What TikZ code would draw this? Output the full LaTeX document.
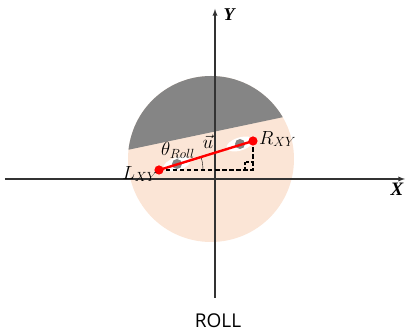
\documentclass[tikz,border=0pt]{standalone}
\usepackage{amsmath}
\usepackage{fix-cm}
\usepackage{fontspec}
\usepackage{xcolor}
\newfontfamily\rollfont{Open Sans}
\newfontfamily\axfont{Liberation Serif}
\definecolor{peach}{HTML}{FBE5D6}
\definecolor{headgray}{HTML}{858585}
\tikzset{
  axis/.style={line width=1.3pt,black!80,-latex},
  lbl/.style={inner sep=0pt,font=\fontsize{19}{21}\selectfont},
}

\begin{document}
\begin{tikzpicture}[x=1pt,y=1pt]
\useasboundingbox (-215,-157) rectangle (192,179);
% head seen from behind
\fill[peach] (-4,20) circle (83);
\begin{scope}
\clip (-4,20) circle (83);
\fill[headgray] (-140,18) -- (140,77) -- (140,140) -- (-140,140) -- cycle;
\end{scope}
% eyes
\fill[white,rotate around={17:(-38,15)}] (-38,15) ellipse (14 and 6.5);
\fill[white,rotate around={17:(25,35)}] (25,35) ellipse (14 and 6.5);
\fill[headgray] (-38,15) circle (5);
\fill[headgray] (25,35) circle (5);
% axes
\draw[axis] (-210,0) -- (190,0);
\draw[axis] (0,-119) -- (0,170);
\node[lbl,font=\fontsize{19}{21}\axfont\bfseries\itshape] (xlab) at (182,-10) {X};
\node[lbl,font=\fontsize{18}{20}\axfont\bfseries\itshape] (ylab) at (14,164) {Y};
% roll vector
\coordinate (L) at (-56,9);
\coordinate (R) at (38,38);
\coordinate (C) at (38,9);
\draw[line width=1.4pt,dash pattern=on 4.5pt off 2.5pt] (L) -- (C) -- (R);
\draw[line width=1.4pt,dash pattern=on 3pt off 1.5pt] (30,9) -- (30,17) -- (38,17);
\draw[thin] ([shift={(44,0)}]L) arc[start angle=0,end angle=17,radius=44];
\draw[red,line width=2.4pt] (L) -- (R);
\fill[red] (L) circle (4.6);
\fill[red] (R) circle (4.6);
\node[lbl,anchor=east] (llab) at (-57,5) {$L_{XY}$};
\node[lbl,anchor=west] (rlab) at (44,40) {$R_{XY}$};
\node[lbl] (theta) at (-37,29) {$\theta_{Roll}$};
\node[lbl] (uvec) at (-7,37) {$\vec{u}$};
\node[inner sep=0pt,font=\fontsize{19}{21}\rollfont] (title) at (3,-142) {ROLL};
\end{tikzpicture}
\end{document}
